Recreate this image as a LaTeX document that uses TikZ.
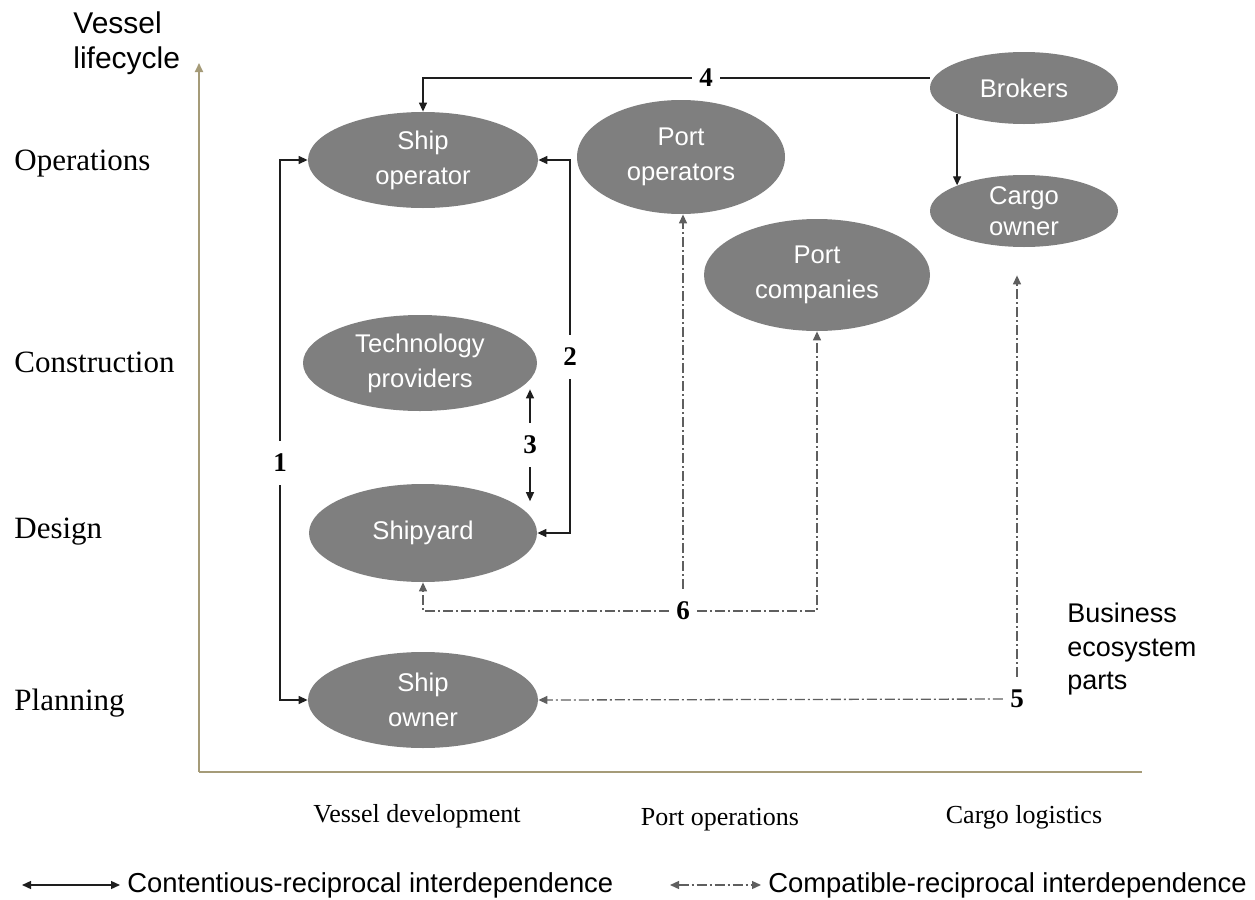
\documentclass[tikz,border=0pt]{standalone}
\usepackage{fontspec}
\setmainfont{Liberation Serif}
\setsansfont{Liberation Sans}
\usetikzlibrary{shapes.geometric,arrows.meta}
\definecolor{axisc}{RGB}{165,155,120}
\definecolor{partc}{RGB}{127,127,127}
\definecolor{linkc}{RGB}{30,30,30}
\definecolor{dashc}{RGB}{95,95,95}

\begin{document}
\begin{tikzpicture}[x=0.5pt, y=-0.5pt,
  >={Triangle[length=4.5pt,width=4pt]},
  part/.style={ellipse, fill=partc, text=white, inner sep=0pt, align=center,
    font=\sffamily\fontsize{12.8}{17.5}\selectfont},
  conflict/.style={draw=linkc, line width=0.65pt},
  compat/.style={draw=dashc, line width=0.65pt,
    dash pattern=on 5pt off 1.5pt on 1pt off 1.5pt},
  num/.style={font=\bfseries\fontsize{13.5}{15}\selectfont, inner xsep=3.5pt, inner ysep=6.5pt},
  stage/.style={anchor=base west, inner sep=0pt, font=\fontsize{15.5}{18}\selectfont},
  sector/.style={anchor=base, inner sep=0pt, font=\fontsize{13}{16}\selectfont},
  note/.style={anchor=north west, inner sep=0pt, align=left, font=\sffamily\fontsize{15}{17.5}\selectfont},
  legend/.style={anchor=west, inner xsep=3.5pt, inner ysep=0pt, font=\sffamily\fontsize{13.7}{16}\selectfont}]
  \useasboundingbox (0,0) rectangle (1255,900);

  % Axes
  \draw[axisc, line width=1pt, ->] (199,772) -- (199,63);
  \draw[axisc, line width=1pt] (199,772) -- (1142,772);
  \node[note] (axisname) at (73,11) {Vessel\\lifecycle};

  % Lifecycle stages
  \foreach \lab/\y [count=\i] in {Operations/170, Construction/372, Design/538, Planning/710} {
    \node[stage] (stage\i) at (14,\y) {\lab};
  }
  % Ecosystem sectors
  \foreach \lab/\x/\y [count=\i] in {Vessel development/417/822, Port operations/720/825, Cargo logistics/1024/823} {
    \node[sector] (sector\i) at (\x,\y) {\lab};
  }
  \node[note, font=\sffamily\fontsize{13.5}{16.75}\selectfont] (ecoparts) at (1067,603) {Business\\ecosystem\\parts};

  % Ecosystem parts
  \node[part, minimum width=115pt, minimum height=48pt] (shipop) at (423,160) {Ship\\operator};
  \node[part, minimum width=104pt, minimum height=57pt] (portop) at (681,157) {Port\\operators};
  \node[part, minimum width=94pt, minimum height=36pt] (brokers) at (1024,88) {Brokers};
  \node[part, minimum width=94pt, minimum height=36pt, font=\sffamily\fontsize{12.8}{15.5}\selectfont] (cargo) at (1024,211) {Cargo\\owner};
  \node[part, minimum width=113pt, minimum height=56pt] (portco) at (817,275) {Port\\companies};
  \node[part, minimum width=117pt, minimum height=48pt] (tech) at (420,363) {Technology\\providers};
  \node[part, minimum width=114pt, minimum height=49pt] (yard) at (423,533) {Shipyard};
  \node[part, minimum width=115pt, minimum height=48pt] (owner) at (423,700) {Ship\\owner};

  % Link numbers
  \node[num] (n1) at (280,463) {1};
  \node[num] (n2) at (570,357) {2};
  \node[num] (n3) at (530,445) {3};
  \node[num] (n4) at (706,78) {4};
  \node[num] (n5) at (1017,699) {5};
  \node[num] (n6) at (683,611) {6};
  \coordinate (cargo5) at ([yshift=-14pt]cargo.south);

  % Contentious links
  \draw[conflict, ->] (n1) |- (shipop.west);
  \draw[conflict, ->] (n1) |- (owner.west);
  \draw[conflict, ->] (n2) |- (shipop.east);
  \draw[conflict, ->] (n2) |- (yard.east);
  \draw[conflict, ->] (n3) -- (n3 |- tech.345);
  \draw[conflict, ->] (n3) -- (n3 |- yard.20);
  \draw[conflict] (n4 -| brokers.west) -- (n4);
  \draw[conflict, ->] (n4) -| (shipop.north);
  \draw[conflict, ->] (brokers.201) -- (brokers.201 |- cargo.159);

  % Compatible links
  \draw[compat, ->] (n5) -- (owner.east);
  \draw[compat, ->] (n5) -- (n5 |- cargo5);
  \draw[compat, ->] (n6) -| (yard.south);
  \draw[compat, ->] (n6) -| (portco.south);
  \draw[compat, ->] (n6) -- (n6 |- portop.south);

  % Legend
  \node[legend] (leg1) at (120,885) {Contentious-reciprocal interdependence};
  \node[legend] (leg2) at (761,885) {Compatible-reciprocal interdependence};
  \draw[conflict, <->] ([xshift=-49pt]leg1.west) -- (leg1.west);
  \draw[compat, <->] ([xshift=-45.5pt]leg2.west) -- (leg2.west);
\end{tikzpicture}
\end{document}
